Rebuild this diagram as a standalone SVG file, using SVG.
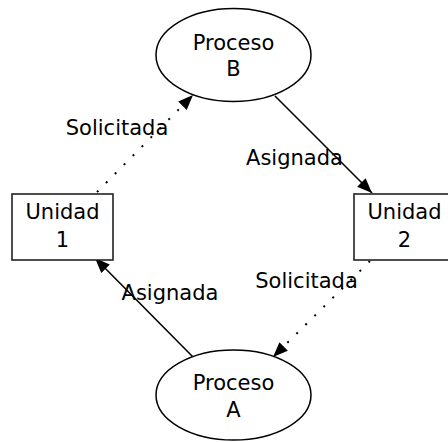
<svg xmlns="http://www.w3.org/2000/svg" width="448" height="442" viewBox="0 0 448 442">
<style>
  .node { fill: #fff; stroke: #000; stroke-width: 1.5; }
  .box { fill: #fff; stroke: #222; stroke-width: 1.6; }
  .t { font-family: "DejaVu Sans", sans-serif; font-size: 21px; fill: #000; text-anchor: middle; }
  .e { fill: none; stroke: #000; stroke-width: 1.6; }
  .dot { stroke-width: 2; stroke-dasharray: 2 10.7; }
</style>
<defs>
  <marker id="arr" markerUnits="userSpaceOnUse" markerWidth="16" markerHeight="13" refX="15" refY="6" orient="auto" viewBox="0 0 16 13">
    <path d="M0,0 L15,6 L0,12 z" fill="#000"/>
  </marker>
</defs>
<rect width="448" height="442" fill="#fff"/>
<g id="edges">
  <line class="e" x1="275" y1="96" x2="372" y2="193" marker-end="url(#arr)"/>
  <line class="e dot" x1="97" y1="192" x2="193" y2="95" marker-end="url(#arr)"/>
  <line class="e dot" x1="370" y1="261" x2="273" y2="357" marker-end="url(#arr)"/>
  <line class="e" x1="193" y1="357" x2="95" y2="258" marker-end="url(#arr)"/>
  <text class="t" x="117" y="135">Solicitada</text>
  <text class="t" x="294.5" y="165">Asignada</text>
  <text class="t" x="306.5" y="288">Solicitada</text>
  <text class="t" x="170" y="300">Asignada</text>
</g>
<g id="procesoB">
  <ellipse class="node" cx="233.5" cy="55" rx="77.5" ry="46.5"/>
  <text class="t" x="233.5" y="50">Proceso</text>
  <text class="t" x="233.5" y="76">B</text>
</g>
<g id="procesoA">
  <ellipse class="node" cx="233.5" cy="395" rx="77.5" ry="45"/>
  <text class="t" x="233.5" y="390">Proceso</text>
  <text class="t" x="233.5" y="417">A</text>
</g>
<g id="unidad1">
  <rect class="box" x="12" y="194" width="101" height="66"/>
  <text class="t" x="62.5" y="219">Unidad</text>
  <text class="t" x="62.5" y="247">1</text>
</g>
<g id="unidad2">
  <rect class="box" x="354" y="194" width="101" height="66"/>
  <text class="t" x="404.5" y="219">Unidad</text>
  <text class="t" x="404.5" y="247">2</text>
</g>
</svg>
